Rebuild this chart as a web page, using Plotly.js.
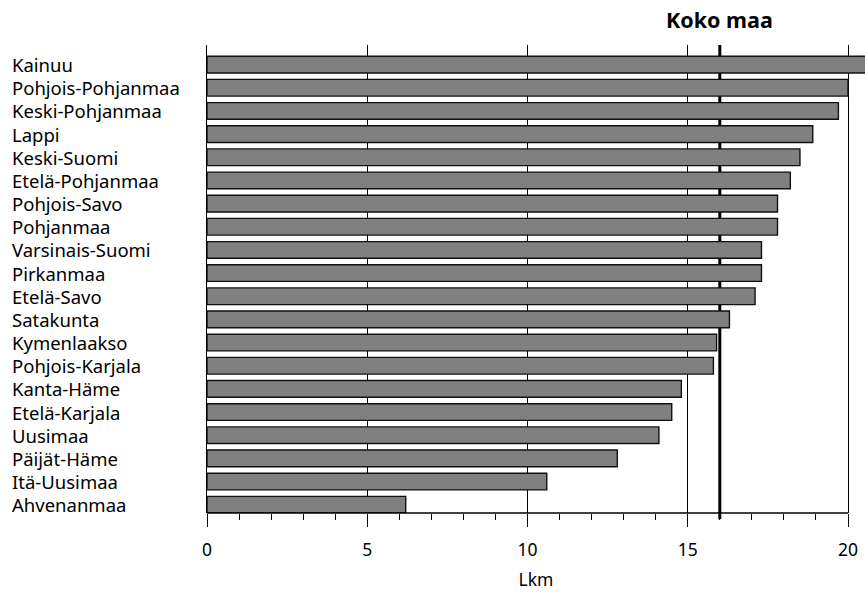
<!DOCTYPE html>
<html><head><meta charset="utf-8">
<script src="https://cdn.plot.ly/plotly-3.0.1.min.js"></script>
<style>html,body{margin:0;padding:0;background:#fff;}</style>
</head><body>
<div id="chart" style="width:865px;height:592px;"></div>
<script>
const regions = ["Kainuu","Pohjois-Pohjanmaa","Keski-Pohjanmaa","Lappi","Keski-Suomi","Etelä-Pohjanmaa","Pohjois-Savo","Pohjanmaa","Varsinais-Suomi","Pirkanmaa","Etelä-Savo","Satakunta","Kymenlaakso","Pohjois-Karjala","Kanta-Häme","Etelä-Karjala","Uusimaa","Päijät-Häme","Itä-Uusimaa","Ahvenanmaa"];
const values = [20.6,20.0,19.7,18.9,18.5,18.2,17.8,17.8,17.3,17.3,17.1,16.3,15.9,15.8,14.8,14.5,14.1,12.8,10.6,6.2];
const kokoMaa = 16.0;
const xTicks = [0,5,10,15,20];
const xTitle = "Lkm";
const refLabel = "Koko maa";

const FONT = "Noto Sans, Open Sans, sans-serif";
const Y_RANGE = [19.357, -0.846];

const trace = {
  type: "bar", orientation: "h",
  x: values, y: regions,
  width: 0.72,
  marker: {color: "#808080", line: {color: "#111", width: 1.4}},
  hoverinfo: "none"
};

const labelAnns = regions.map(r => ({
  x: -0.2994, xref: "paper", y: r, yref: "y",
  text: r, showarrow: false, xanchor: "left", yanchor: "middle",
  font: {family: FONT, size: 18.5, color: "#000"}
}));

const layout = {
  width: 865, height: 592,
  margin: {l: 207, r: 0, t: 45, b: 79},
  paper_bgcolor: "#fff", plot_bgcolor: "#fff",
  showlegend: false,
  font: {family: FONT, size: 17, color: "#000"},
  xaxis: {
    range: [0, 20.53],
    tickvals: xTicks, ticktext: xTicks.map(String),
    ticks: "outside", ticklen: 13, tickwidth: 1, tickcolor: "#000",
    ticklabelstandoff: 8,
    showgrid: true, gridcolor: "#000", gridwidth: 1,
    zeroline: false, showline: false,
    minor: {dtick: 1, tick0: 0, ticks: "outside", ticklen: 6, tickcolor: "#000", tickwidth: 1, showgrid: false},
    tickfont: {family: FONT, size: 17.5, color: "#000"},
    title: {text: xTitle, font: {family: FONT, size: 17.5, color: "#000"}, standoff: 13},
    fixedrange: true
  },
  yaxis: {
    type: "category",
    range: Y_RANGE,
    showticklabels: false, ticks: "",
    showgrid: false, zeroline: false,
    showline: true, linecolor: "#000", linewidth: 1.3,
    fixedrange: true
  },
  shapes: [
    {type: "line", xref: "x", yref: "paper", x0: 0, x1: 20, y0: 0, y1: 0,
     line: {color: "#000", width: 1.3}, layer: "above"},
    {type: "line", xref: "x", yref: "y", x0: kokoMaa, x1: kokoMaa, y0: Y_RANGE[0], y1: Y_RANGE[1],
     line: {color: "#000", width: 3}, layer: "between"},
    {type: "line", xref: "x", yref: "paper", x0: kokoMaa, x1: kokoMaa, y0: -0.013, y1: 0,
     line: {color: "#000", width: 3}, layer: "above"}
  ],
  annotations: labelAnns.concat([{
    x: kokoMaa, xref: "x", y: 1, yref: "paper", yshift: 26,
    text: "<b>" + refLabel + "</b>", showarrow: false, xanchor: "center", yanchor: "middle",
    font: {family: FONT, size: 21.5, color: "#000"}
  }])
};

Plotly.newPlot("chart", [trace], layout, {displayModeBar: false, staticPlot: true});
</script>
</body></html>
